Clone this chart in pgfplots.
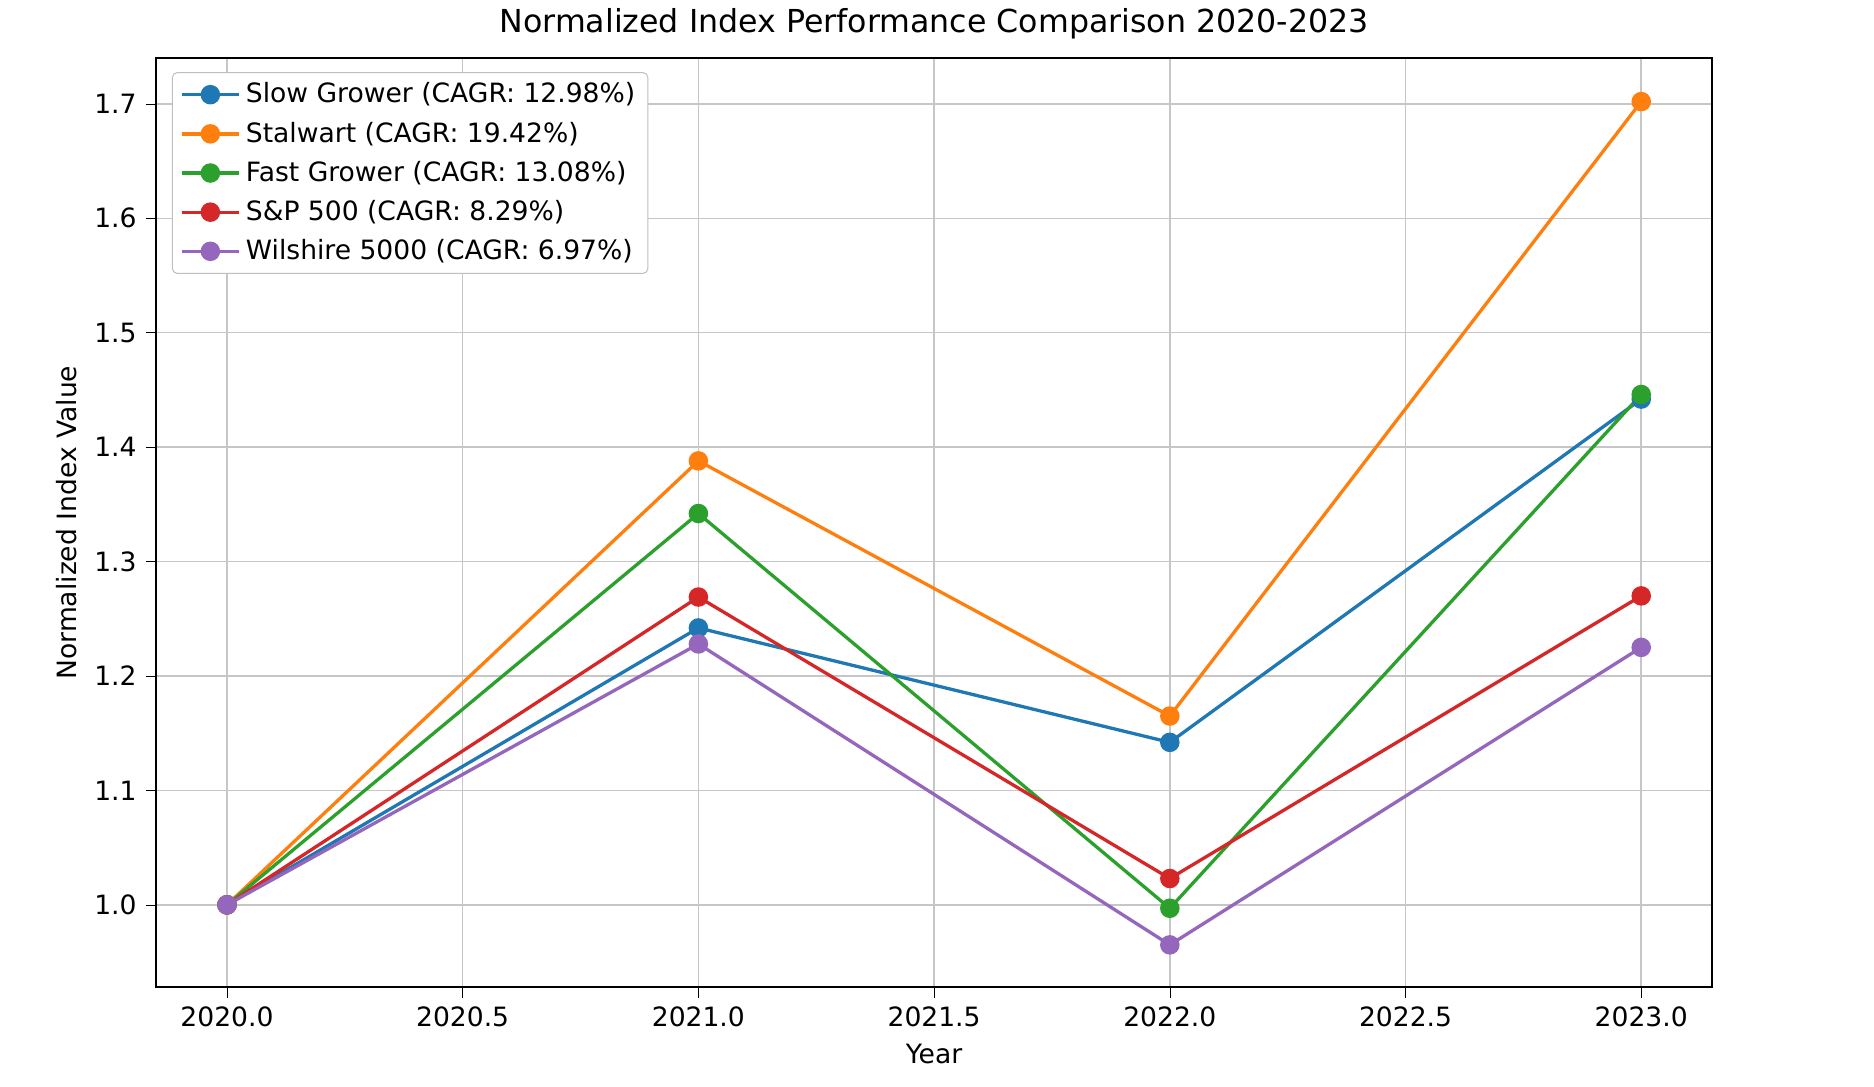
\documentclass[border=0pt]{standalone}
\usepackage{pgfplots}
\pgfplotsset{compat=1.18}
\usepackage{fontspec}
\setmainfont{DejaVu Sans}
\definecolor{c1}{HTML}{1F77B4}
\definecolor{c2}{HTML}{FF7F0E}
\definecolor{c3}{HTML}{2CA02C}
\definecolor{c4}{HTML}{D62728}
\definecolor{c5}{HTML}{9467BD}
\begin{document}
\begin{tikzpicture}
\begin{axis}[
  scale only axis, width=21.6cm, height=12.9cm,
  xmin=2019.85, xmax=2023.15, ymin=0.928, ymax=1.740,
  xtick={2020,2020.5,...,2023}, ytick={1.0,1.1,...,1.71},
  xtick pos=left, ytick pos=left,
  /pgf/number format/assume math mode=true,
  xticklabel style={/pgf/number format/.cd,fixed,fixed zerofill,precision=1,1000 sep={}},
  yticklabel style={/pgf/number format/.cd,fixed,fixed zerofill,precision=1},
  ticklabel style={font=\fontsize{10.5}{12}\selectfont},
  grid=major, grid style={gray!45, line width=0.6pt},
  tick align=outside, tick style={black}, axis line style={line width=0.7pt},
  xlabel={Year}, ylabel={Normalized Index Value},
  label style={font=\fontsize{10.5}{12}\selectfont},
  title={Normalized Index Performance Comparison 2020-2023},
  title style={font=\fontsize{12.5}{14}\selectfont, yshift=-2pt},
  legend style={at={(0.01,0.985)}, anchor=north west, font=\fontsize{10.5}{13}\selectfont, draw=gray!50, rounded corners=2pt, row sep=2pt},
  legend image post style={},
  legend image code/.code={\draw[#1] (0cm,0cm) -- (0.8cm,0cm); \draw[#1,only marks] plot coordinates {(0.4cm,0cm)};},
  legend cell align=left,
  every axis plot/.append style={line width=1.3pt, mark=*, mark size=3.2pt},
]
\addplot[c1, mark options={fill=c1}] coordinates {(2020,1) (2021,1.242) (2022,1.142) (2023,1.442)};
\addlegendentry{Slow Grower (CAGR: 12.98\%)}
\addplot[c2, mark options={fill=c2}] coordinates {(2020,1) (2021,1.388) (2022,1.165) (2023,1.702)};
\addlegendentry{Stalwart (CAGR: 19.42\%)}
\addplot[c3, mark options={fill=c3}] coordinates {(2020,1) (2021,1.342) (2022,0.997) (2023,1.446)};
\addlegendentry{Fast Grower (CAGR: 13.08\%)}
\addplot[c4, mark options={fill=c4}] coordinates {(2020,1) (2021,1.269) (2022,1.023) (2023,1.270)};
\addlegendentry{S\&P 500 (CAGR: 8.29\%)}
\addplot[c5, mark options={fill=c5}] coordinates {(2020,1) (2021,1.228) (2022,0.965) (2023,1.225)};
\addlegendentry{Wilshire 5000 (CAGR: 6.97\%)}
\end{axis}
\path ([xshift=-2.17cm,yshift=-1.38cm]current axis.south west) rectangle ([xshift=2.25cm,yshift=0.8cm]current axis.north east);
\end{tikzpicture}
\end{document}
